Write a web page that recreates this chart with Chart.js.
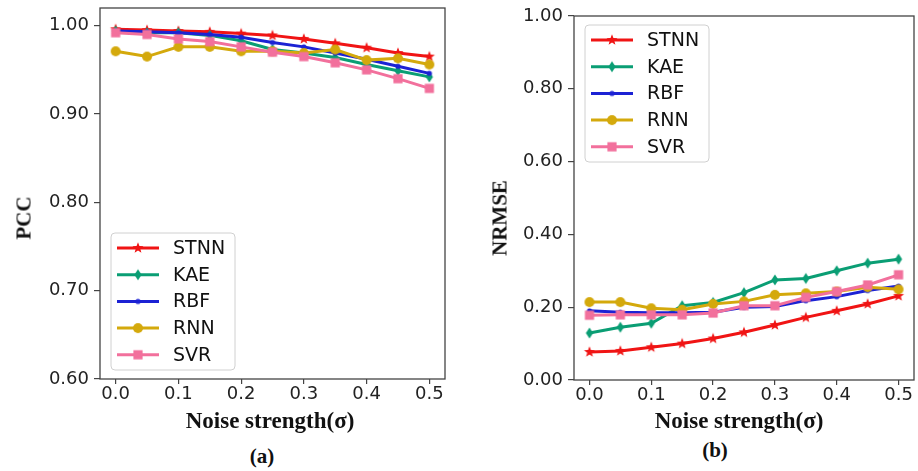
<!DOCTYPE html>
<html lang="en">
<head>
  <meta charset="UTF-8">
  <title>PCC / NRMSE vs noise strength</title>
  <script src="https://cdn.jsdelivr.net/npm/chart.js"></script>
  <style>
    body {
      margin: 0;
      width: 918px;
      height: 471px;
      background: #fff;
      overflow: hidden;
      position: relative;
      font-family: 'Liberation Serif', serif;
    }
    canvas { position: absolute; top: 0; }
    #left { left: 0; }
    #right { left: 470px; }
    .lbl {
      position: absolute;
      font-weight: bold;
      color: #111;
      white-space: nowrap;
      transform: translate(-50%, -50%);
    }
    .ylbl { font-size: 21px; transform: translate(-50%, -50%) rotate(-90deg); }
    .xlbl { font-size: 23px; }
    .panel { font-size: 21px; }
  </style>
</head>
<body>
  <canvas id="left" width="455" height="410"></canvas>
  <canvas id="right" width="452" height="410"></canvas>

  <div class="lbl ylbl" style="left:24px; top:218px;">PCC</div>
  <div class="lbl ylbl" style="left:500px; top:218px;">NRMSE</div>
  <div class="lbl xlbl" style="left:270px; top:421px;">Noise strength(σ)</div>
  <div class="lbl xlbl" style="left:739px; top:421px;">Noise strength(σ)</div>
  <div class="lbl panel" style="left:262px; top:456px;">(a)</div>
  <div class="lbl panel" style="left:715px; top:450px;">(b)</div>

  <script>
    // noise levels (x axis)
    const noise = [0, 0.05, 0.1, 0.15, 0.2, 0.25, 0.3, 0.35, 0.4, 0.45, 0.5];
    const xTicks = [0, 0.1, 0.2, 0.3, 0.4, 0.5];

    // (a) PCC
    const pccSTNN = [0.996, 0.995, 0.994, 0.993, 0.991, 0.989, 0.985, 0.980, 0.975, 0.969, 0.965];
    const pccKAE  = [0.994, 0.992, 0.992, 0.989, 0.983, 0.973, 0.969, 0.964, 0.956, 0.949, 0.942];
    const pccRBF  = [0.994, 0.993, 0.992, 0.990, 0.987, 0.981, 0.976, 0.969, 0.962, 0.954, 0.946];
    const pccRNN  = [0.971, 0.965, 0.976, 0.976, 0.971, 0.971, 0.969, 0.973, 0.961, 0.963, 0.956];
    const pccSVR  = [0.992, 0.990, 0.985, 0.982, 0.976, 0.970, 0.965, 0.958, 0.950, 0.940, 0.929];
    const pccTicks = [0.6, 0.7, 0.8, 0.9, 1.0];

    // (b) NRMSE
    const errSTNN = [0.077, 0.080, 0.090, 0.100, 0.114, 0.131, 0.151, 0.172, 0.190, 0.209, 0.231];
    const errKAE  = [0.129, 0.145, 0.156, 0.204, 0.213, 0.240, 0.275, 0.279, 0.300, 0.321, 0.332];
    const errRBF  = [0.190, 0.186, 0.185, 0.185, 0.186, 0.200, 0.202, 0.218, 0.229, 0.246, 0.258];
    const errRNN  = [0.214, 0.214, 0.197, 0.193, 0.209, 0.216, 0.234, 0.238, 0.243, 0.255, 0.249];
    const errSVR  = [0.178, 0.179, 0.179, 0.179, 0.184, 0.204, 0.204, 0.227, 0.243, 0.261, 0.289];
    const errTicks = [0, 0.2, 0.4, 0.6, 0.8, 1.0];

    const models = ['STNN', 'KAE', 'RBF', 'RNN', 'SVR'];
    const colors = ['#f01414', '#0a9e74', '#1c22d4', '#d4a90c', '#f2709c'];
    const markers = ['star', 'diamond', 'dot', 'circle', 'square'];

    // little canvases used as point markers (matplotlib-like shapes)
    function makeMarker(kind, color) {
      const c = document.createElement('canvas');
      c.width = 16; c.height = 16;
      const g = c.getContext('2d');
      g.fillStyle = color;
      g.translate(8, 8);
      g.beginPath();
      if (kind === 'star') {
        for (let i = 0; i < 10; i++) {
          const r = i % 2 ? 2.4 : 5.8;
          const a = -Math.PI / 2 + i * Math.PI / 5;
          g.lineTo(r * Math.cos(a), r * Math.sin(a));
        }
      } else if (kind === 'diamond') {
        g.moveTo(0, -5.5); g.lineTo(3.6, 0); g.lineTo(0, 5.5); g.lineTo(-3.6, 0);
      } else if (kind === 'dot') {
        g.arc(0, 0, 2.6, 0, Math.PI * 2);
      } else if (kind === 'circle') {
        g.arc(0, 0, 5, 0, Math.PI * 2);
      } else {
        g.rect(-4.6, -4.6, 9.2, 9.2);
      }
      g.closePath();
      g.fill();
      return c;
    }
    const markerImgs = models.map((m, i) => makeMarker(markers[i], colors[i]));

    function buildSets(series) {
      return series.map((vals, i) => ({
        label: models[i],
        data: vals.map((v, k) => ({ x: noise[k], y: v })),
        borderColor: colors[i],
        backgroundColor: colors[i],
        borderWidth: 3,
        pointStyle: markerImgs[i],
        pointRadius: 5,
        tension: 0,
        order: models.length - i
      }));
    }

    // frame around the plot area + matplotlib-style legend inside it
    const frameAndLegend = {
      id: 'frameAndLegend',
      afterDatasetsDraw(chart) {
        const a = chart.chartArea, g = chart.ctx;
        g.save();
        g.strokeStyle = '#444';
        g.lineWidth = 1.3;
        g.strokeRect(a.left, a.top, a.right - a.left, a.bottom - a.top);
        g.restore();
      },
      afterDraw(chart, args, opts) {
        const a = chart.chartArea, g = chart.ctx;
        const w = 124, h = 137;
        const x0 = a.left + 11;
        const y0 = opts.corner === 'lower' ? a.bottom - 9 - h : a.top + 9;
        g.save();
        g.beginPath();
        g.roundRect(x0, y0, w, h, 4);
        g.fillStyle = 'rgba(255,255,255,0.85)';
        g.fill();
        g.strokeStyle = '#d0d0d0';
        g.lineWidth = 1;
        g.stroke();
        g.font = '19px "DejaVu Sans"';
        g.textBaseline = 'middle';
        chart.data.datasets.forEach((ds, i) => {
          const y = y0 + 15 + i * 26.7;
          g.strokeStyle = ds.borderColor;
          g.lineWidth = 3;
          g.beginPath();
          g.moveTo(x0 + 6, y);
          g.lineTo(x0 + 48, y);
          g.stroke();
          const img = ds.pointStyle;
          g.drawImage(img, x0 + 27 - img.width / 2, y - img.height / 2);
          g.fillStyle = '#111';
          g.fillText(ds.label, x0 + 62, y + 1);
        });
        g.restore();
      }
    };

    function makeChart(id, sets, yMin, yMax, yTicks, yWidth, pad, corner) {
      return new Chart(document.getElementById(id), {
        type: 'line',
        data: { datasets: sets },
        options: {
          responsive: false,
          animation: false,
          layout: { padding: pad },
          plugins: {
            legend: { display: false },
            tooltip: { enabled: false },
            frameAndLegend: { corner: corner }
          },
          scales: {
            x: {
              type: 'linear',
              min: -0.025,
              max: 0.525,
              afterBuildTicks: s => { s.ticks = xTicks.map(v => ({ value: v })); },
              afterFit: s => {
                s.height = 410 - pad.bottom - (id === 'right' ? 380 : 379);
                s.paddingLeft = 0; s.paddingRight = 0;
              },
              border: { display: false },
              grid: { drawOnChartArea: false, drawTicks: true, tickLength: 5, tickColor: '#444', lineWidth: 1.2 },
              ticks: {
                padding: 0,
                color: '#222',
                font: { family: 'DejaVu Sans', size: 18 },
                callback: v => v.toFixed(1),
                maxRotation: 0
              }
            },
            y: {
              min: yMin,
              max: yMax,
              afterBuildTicks: s => { s.ticks = yTicks.map(v => ({ value: v })); },
              afterFit: s => {
                s.width = yWidth;
                s.paddingTop = 0; s.paddingBottom = 0;
              },
              border: { display: false },
              grid: { drawOnChartArea: false, drawTicks: true, tickLength: 6, tickColor: '#444', lineWidth: 1.2 },
              ticks: {
                padding: 5,
                color: '#222',
                font: { family: 'DejaVu Sans', size: 18 },
                callback: v => v.toFixed(2)
              }
            }
          }
        },
        plugins: [frameAndLegend]
      });
    }

    makeChart('left', buildSets([pccSTNN, pccKAE, pccRBF, pccRNN, pccSVR]),
      0.6, 1.02, pccTicks, 100, { top: 8, right: 10, left: 0, bottom: 0 }, 'lower');
    makeChart('right', buildSets([errSTNN, errKAE, errRBF, errRNN, errSVR]),
      0, 1, errTicks, 104, { top: 16, right: 2.5, left: 0, bottom: 0 }, 'upper');
  </script>
</body>
</html>
